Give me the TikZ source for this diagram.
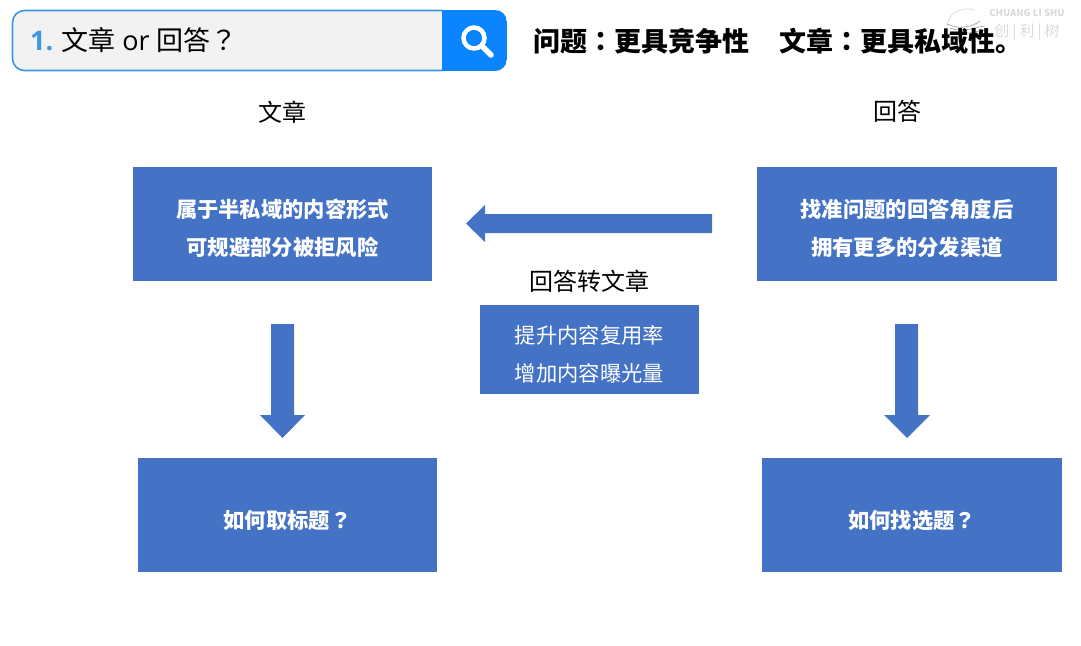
\documentclass[tikz,border=0pt]{standalone}
\usepackage{fontspec}
\setmainfont{Noto Sans CJK SC}
\newfontfamily\tcf{Noto Sans CJK TC}
\newfontfamily\latinf{Open Sans}
\definecolor{boxblue}{HTML}{4472C4}
\definecolor{brightblue}{HTML}{0A84FF}
\definecolor{edgeblue}{HTML}{3E97E6}
\definecolor{searchgrey}{HTML}{F2F2F2}
\definecolor{markgrey}{HTML}{DADADA}
\tikzset{
  x=1pt,y=-1pt,
  bluebox/.style={fill=boxblue,inner sep=0pt},
  boxtext/.style={text=white,inner sep=0pt,align=center,font=\fontsize{21.3}{38}\selectfont\bfseries},
  midtext/.style={text=white,inner sep=0pt,align=center,font=\fontsize{21.3}{38}\selectfont},
  caption/.style={inner sep=0pt,font=\fontsize{24}{28}\selectfont},
  blockarrow/.style={fill=boxblue,draw=none}
}
\begin{document}
\begin{tikzpicture}
\useasboundingbox (0,0) rectangle (1081,645);
% search bar
\fill[searchgrey,rounded corners=12pt] (12,10) rectangle (507,71);
\begin{scope}
\clip[rounded corners=12pt] (12,10) rectangle (507,71);
\fill[brightblue] (442,10) rectangle (507,71);
\end{scope}
\begin{scope}
\clip (0,0) rectangle (442,80);
\draw[edgeblue,line width=1.6pt,rounded corners=12pt] (12.5,10.5) rectangle (506.5,70.5);
\end{scope}
\node[inner sep=0pt,anchor=west,font=\fontsize{27}{30}\selectfont] (q) at (30,40)
  {{\latinf\color{edgeblue}\bfseries 1.}\hspace{8pt}文章\hspace{7pt}{\latinf or}\hspace{7pt}回答{\tcf ？}};
\coordinate (lensc) at (474,38);
\draw[white,line width=4.5pt] (lensc) circle (10.5);
\draw[white,line width=5.5pt,line cap=round] (482,46) -- (491,55);
% watermark (lies under the heading)
\node[inner sep=0pt,text=markgrey,font=\fontsize{9.5}{10}\selectfont\bfseries] (wm1) at (1027,13) {CHUANG LI SHU};
\node[inner sep=0pt,text=markgrey,font=\fontsize{15}{16}\selectfont] (wm2) at (1027,32) {创\hspace{3pt}|\hspace{3pt}利\hspace{3pt}|\hspace{3pt}树};
\draw[markgrey,line width=.7pt] (975,10) .. controls (960,6) and (948,14) .. (947,26);
\draw[gray!70,line width=.7pt] (947,24) .. controls (960,30) and (972,27) .. (980,21);
\draw[gray!70,line width=.7pt] (950,28) .. controls (962,33) and (972,28) .. (985,26);
\draw[gray!70,line width=.7pt] (955,32) .. controls (965,36) and (975,31) .. (985,30);
% headings
\node[inner sep=0pt,anchor=west,font=\fontsize{27}{30}\selectfont\bfseries] (head) at (533,41)
  {问题{\tcf\bfseries ：}更具竞争性};
\node[inner sep=0pt,anchor=west,font=\fontsize{27}{30}\selectfont\bfseries] (head2) at (779,41)
  {文章{\tcf\bfseries ：}更具私域性。};
% captions
\node[caption] (ca) at (282,112) {文章};
\node[caption] (cb) at (897,111) {回答};
\node[caption] (cc) at (589,281) {回答转文章};
% boxes
\node[bluebox,minimum width=299pt,minimum height=114pt] (a1) at (282.5,224) {};
\node[bluebox,minimum width=300pt,minimum height=114pt] (b1) at (907,224) {};
\node[bluebox,minimum width=299pt,minimum height=114pt] (a2) at (287.5,515) {};
\node[bluebox,minimum width=300pt,minimum height=114pt] (b2) at (912,515) {};
\node[bluebox,minimum width=219pt,minimum height=89pt] (mid) at (589.5,349.5) {};
\node[boxtext] (a1t) at ([yshift=-4.5pt]a1.center) {属于半私域的内容形式\\可规避部分被拒风险};
\node[boxtext] (b1t) at ([yshift=-4.5pt]b1.center) {找准问题的回答角度后\\拥有更多的分发渠道};
\node[boxtext] (a2t) at ([yshift=-5.5pt]a2.center) {如何取标题{\tcf\bfseries ？}};
\node[boxtext] (b2t) at ([yshift=-5.5pt]b2.center) {如何找选题{\tcf\bfseries ？}};
\node[midtext] (midt) at ([yshift=-5pt]mid.center) {提升内容复用率\\增加内容曝光量};
% block arrows
\fill[blockarrow] (271,324) -- (294,324) -- (294,415) -- (305,415) -- (282.5,438) -- (260,415) -- (271,415) -- cycle;
\fill[blockarrow] (895,324) -- (918,324) -- (918,415) -- (930,415) -- (907,438) -- (884,415) -- (895,415) -- cycle;
\fill[blockarrow] (712,214) -- (712,233) -- (485,233) -- (485,242) -- (466,223.5) -- (485,205) -- (485,214) -- cycle;
\end{tikzpicture}
\end{document}
